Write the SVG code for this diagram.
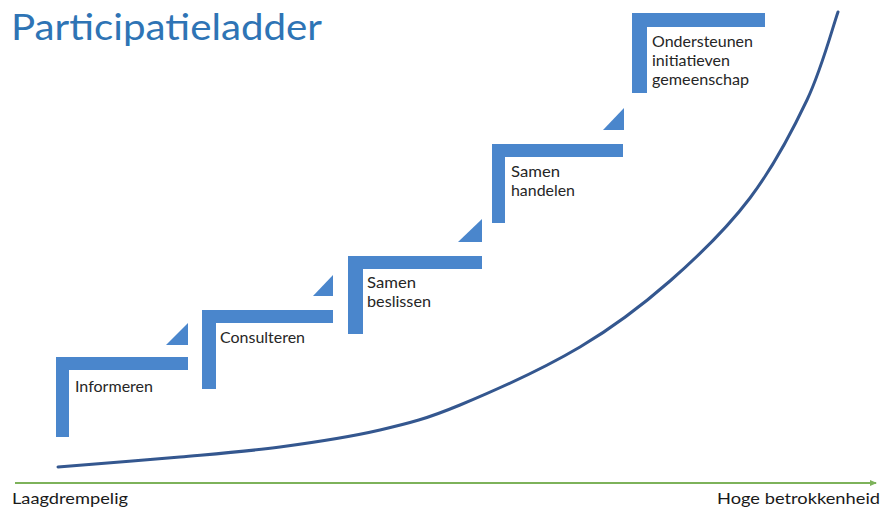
<svg xmlns="http://www.w3.org/2000/svg" width="885" height="511" viewBox="0 0 885 511">
<style>
.step{fill:#4A86CC;}
.tri{fill:#4A86CC;}
.lbl{font-family:Lato,"Open Sans","Liberation Sans",sans-serif;font-size:15px;fill:#262626;}
.ax{font-family:Lato,"Open Sans","Liberation Sans",sans-serif;font-size:16px;fill:#1a1a1a;}
.title{font-family:Lato,"Open Sans","Liberation Sans",sans-serif;font-size:37px;fill:#2E74B5;}
</style>
<defs>
<marker id="arr" markerWidth="8" markerHeight="8" refX="6" refY="4" orient="auto" markerUnits="userSpaceOnUse">
<path d="M0,1 L7,4 L0,7 Z" fill="#7DB25A"/>
</marker>
</defs>
<rect width="885" height="511" fill="#ffffff"/>
<text class="title" x="11" y="40" textLength="311" lengthAdjust="spacingAndGlyphs">Participatieladder</text>

<g id="curve">
<path d="M58,467 C78.3,465.3 143,460.3 180,457 C217,453.7 246.7,451.5 280,447 C313.3,442.5 350,437 380,430 C410,423 426.7,418.8 460,405 C493.3,391.2 545,367.7 580,347 C615,326.3 641.7,305.8 670,281 C698.3,256.2 727.2,228.2 750,198 C772.8,167.8 792.3,131 807,100 C821.7,69 832.8,26.7 838,12" fill="none" stroke="#34578F" stroke-width="3" stroke-linecap="round"/>
</g>

<g id="axis">
<line x1="15" y1="483" x2="876" y2="483" stroke="#7DB25A" stroke-width="2" marker-end="url(#arr)"/>
<text class="ax" x="12" y="504" textLength="116" lengthAdjust="spacingAndGlyphs">Laagdrempelig</text>
<text class="ax" x="880" y="504" text-anchor="end" textLength="163" lengthAdjust="spacingAndGlyphs">Hoge betrokkenheid</text>
</g>

<g id="step-informeren">
<path class="step" d="M56,357 H188 V370 H69 V437 H56 Z"/>
<text class="lbl" x="75" y="392" textLength="78" lengthAdjust="spacingAndGlyphs">Informeren</text>
</g>
<g id="step-consulteren">
<path class="step" d="M202,310 H333 V323 H216 V389 H202 Z"/>
<text class="lbl" x="220" y="343" textLength="85" lengthAdjust="spacingAndGlyphs">Consulteren</text>
</g>
<g id="step-samen-beslissen">
<path class="step" d="M348,256 H482 V269 H363 V334 H348 Z"/>
<text class="lbl" x="367" y="288" textLength="49" lengthAdjust="spacingAndGlyphs">Samen</text>
<text class="lbl" x="367" y="307" textLength="64" lengthAdjust="spacingAndGlyphs">beslissen</text>
</g>
<g id="step-samen-handelen">
<path class="step" d="M492,144 H623 V157 H505 V223 H492 Z"/>
<text class="lbl" x="511" y="177" textLength="49" lengthAdjust="spacingAndGlyphs">Samen</text>
<text class="lbl" x="511" y="196" textLength="64" lengthAdjust="spacingAndGlyphs">handelen</text>
</g>
<g id="step-ondersteunen">
<path class="step" d="M632,13 H765 V27 H647 V93 H632 Z"/>
<text class="lbl" x="652" y="47" textLength="101" lengthAdjust="spacingAndGlyphs">Ondersteunen</text>
<text class="lbl" x="652" y="66" textLength="78" lengthAdjust="spacingAndGlyphs">initiatieven</text>
<text class="lbl" x="652" y="85" textLength="97" lengthAdjust="spacingAndGlyphs">gemeenschap</text>
</g>

<g id="connectors">
<path class="tri" d="M166,345 H188 V323 Z"/>
<path class="tri" d="M313,296 H333 V275 Z"/>
<path class="tri" d="M458,242 H482 V219 Z"/>
<path class="tri" d="M603,130 H624 V108 Z"/>
</g>
</svg>
